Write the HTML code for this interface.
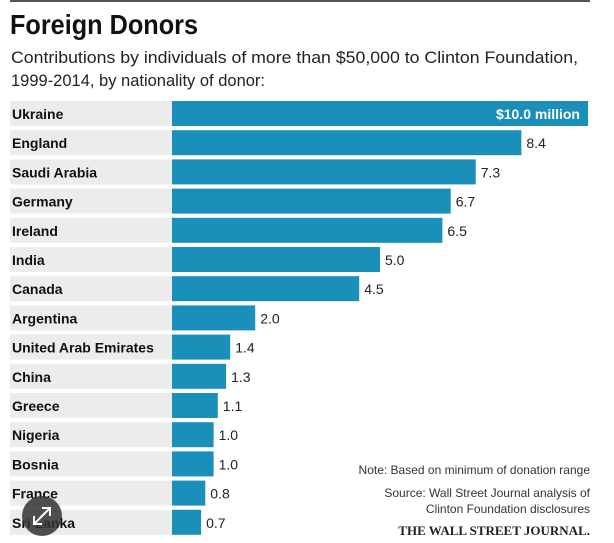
<!DOCTYPE html>
<html><head><meta charset="utf-8"><style>
html,body{margin:0;padding:0;background:#fff}
svg{display:block;font-family:"Liberation Sans",sans-serif}
</style></head><body>
<svg width="614" height="543" viewBox="0 0 614 543" xmlns="http://www.w3.org/2000/svg">
<rect x="10" y="0" width="580" height="2" fill="#555"/>
<text x="10" y="34" font-size="28" font-weight="bold" fill="#111" textLength="188" lengthAdjust="spacingAndGlyphs">Foreign Donors</text>
<text x="11" y="63" font-size="17" fill="#222" textLength="567" lengthAdjust="spacingAndGlyphs">Contributions by individuals of more than $50,000 to Clinton Foundation,</text>
<text x="11" y="86" font-size="17" fill="#222" textLength="254" lengthAdjust="spacingAndGlyphs">1999-2014, by nationality of donor:</text>
<g fill="#ececec">
<rect x="10" y="101" width="162" height="25"/><rect x="10" y="130.2" width="162" height="25"/><rect x="10" y="159.4" width="162" height="25"/><rect x="10" y="188.6" width="162" height="25"/><rect x="10" y="217.8" width="162" height="25"/><rect x="10" y="247" width="162" height="25"/><rect x="10" y="276.2" width="162" height="25"/><rect x="10" y="305.4" width="162" height="25"/><rect x="10" y="334.6" width="162" height="25"/><rect x="10" y="363.8" width="162" height="25"/><rect x="10" y="393" width="162" height="25"/><rect x="10" y="422.2" width="162" height="25"/><rect x="10" y="451.4" width="162" height="25"/><rect x="10" y="480.6" width="162" height="25"/><rect x="10" y="509.8" width="162" height="25"/>
</g>
<g fill="#1a8fba">
<rect x="172" y="101" width="416" height="25"/><rect x="172" y="130.2" width="349.4" height="25"/><rect x="172" y="159.4" width="303.7" height="25"/><rect x="172" y="188.6" width="278.7" height="25"/><rect x="172" y="217.8" width="270.4" height="25"/><rect x="172" y="247" width="208" height="25"/><rect x="172" y="276.2" width="187.2" height="25"/><rect x="172" y="305.4" width="83.2" height="25"/><rect x="172" y="334.6" width="58.2" height="25"/><rect x="172" y="363.8" width="54.1" height="25"/><rect x="172" y="393" width="45.8" height="25"/><rect x="172" y="422.2" width="41.6" height="25"/><rect x="172" y="451.4" width="41.6" height="25"/><rect x="172" y="480.6" width="33.3" height="25"/><rect x="172" y="509.8" width="29.1" height="25"/>
</g>
<g font-size="14" font-weight="bold" fill="#111">
<text x="12" y="119">Ukraine</text><text x="12" y="148.2">England</text><text x="12" y="177.4">Saudi Arabia</text><text x="12" y="206.6">Germany</text><text x="12" y="235.8">Ireland</text><text x="12" y="265">India</text><text x="12" y="294.2">Canada</text><text x="12" y="323.4">Argentina</text><text x="12" y="352.6">United Arab Emirates</text><text x="12" y="381.8">China</text><text x="12" y="411">Greece</text><text x="12" y="440.2">Nigeria</text><text x="12" y="469.4">Bosnia</text><text x="12" y="498.6">France</text><text x="12" y="527.8">Sri Lanka</text>
</g>
<text x="580" y="119" font-size="14" font-weight="bold" fill="#fff" text-anchor="end">$10.0 million</text>
<g font-size="14" fill="#222">
<text x="526.4" y="148.2">8.4</text><text x="480.7" y="177.4">7.3</text><text x="455.7" y="206.6">6.7</text><text x="447.4" y="235.8">6.5</text><text x="385" y="265">5.0</text><text x="364.2" y="294.2">4.5</text><text x="260.2" y="323.4">2.0</text><text x="235.2" y="352.6">1.4</text><text x="231.1" y="381.8">1.3</text><text x="222.8" y="411">1.1</text><text x="218.6" y="440.2">1.0</text><text x="218.6" y="469.4">1.0</text><text x="210.3" y="498.6">0.8</text><text x="206.1" y="527.8">0.7</text>
</g>
<text x="590" y="474" font-size="12" fill="#333" text-anchor="end">Note: Based on minimum of donation range</text>
<text x="590" y="497" font-size="12" fill="#333" text-anchor="end">Source: Wall Street Journal analysis of</text>
<text x="590" y="513" font-size="12" fill="#333" text-anchor="end">Clinton Foundation disclosures</text>
<text x="590" y="535" font-size="13" font-family="Liberation Serif,serif" font-weight="bold" fill="#222" text-anchor="end">THE WALL STREET JOURNAL.</text>
<circle cx="42" cy="516" r="20" fill="#333" opacity="0.85"/>
<path d="M34 524 L50 508 M42 508 L50 508 L50 516 M34 516 L34 524 L42 524" stroke="#fff" stroke-width="2" fill="none"/>
</svg>
</body></html>
